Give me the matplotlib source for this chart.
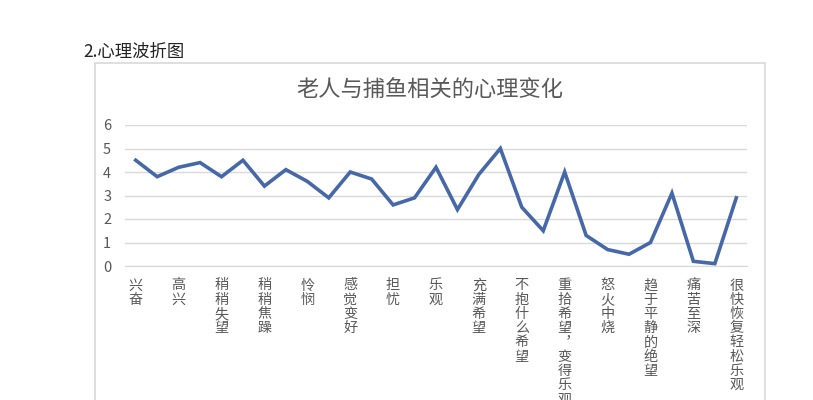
import matplotlib
matplotlib.use("Agg")
import matplotlib.pyplot as plt
from matplotlib.patches import Rectangle

plt.rcParams['font.family'] = ['Noto Sans CJK SC', 'DejaVu Sans']

heading = "2.心理波折图"
title = "老人与捕鱼相关的心理变化"
values = [4.5, 3.8, 4.2, 4.4, 3.8, 4.5, 3.4, 4.1, 3.6, 2.9, 4.0, 3.7, 2.6, 2.9,
          4.2, 2.4, 3.9, 5.0, 2.5, 1.5, 4.0, 1.3, 0.7, 0.5, 1.0, 3.1, 0.2, 0.1, 2.9]
labels = ["兴奋", "高兴", "稍稍失望", "稍稍焦躁", "怜悯", "感觉变好", "担忧", "乐观",
          "充满希望", "不抱什么希望", "重拾希望︐变得乐观", "怒火中烧", "趋于平静的绝望",
          "痛苦至深", "很快恢复轻松乐观"]
yticks = [0, 1, 2, 3, 4, 5, 6]

W, H = 813, 400
fig = plt.figure(figsize=(W / 100, H / 100), dpi=100)

# chart border
fig.patches.append(Rectangle((95 / W, -0.1), (765 - 95) / W, 1.1 - 63 / H,
                             transform=fig.transFigure, fill=False,
                             edgecolor='#d9d9d9', linewidth=1.2))

fig.text(83 / W, 1 - 52 / H, heading, fontsize=12.5, color='#222222',
         va='center', ha='left')
fig.text(430 / W, 1 - 90 / H, title, fontsize=16, color='#595959',
         va='center', ha='center')

ax = fig.add_axes([125 / W, 1 - 266 / H, (747 - 125) / W, (266 - 125) / H])
x = list(range(len(values)))
ax.plot(x, values, color='#4668A8', linewidth=2.6, solid_joinstyle='miter')
ax.set_xlim(-0.5, len(values) - 0.5)
ax.set_ylim(0, 6)
ax.set_yticks(yticks)
ax.set_yticklabels([str(v) for v in yticks], fontsize=10.5, color='#595959')
ax.grid(axis='y', color='#d9d9d9', linewidth=1)
ax.set_axisbelow(True)
for s in ['top', 'right', 'left']:
    ax.spines[s].set_visible(False)
ax.spines['bottom'].set_color('#d9d9d9')
ax.tick_params(axis='both', length=0)
ax.tick_params(axis='y', pad=10)

pos = list(range(0, len(values), 2))
ax.set_xticks(pos)
ax.set_xticklabels(['\n'.join(l) for l in labels], fontsize=10.2, color='#595959',
                   linespacing=1.02, va='top')
ax.tick_params(axis='x', pad=9)

fig.savefig('out.png', dpi=100)
